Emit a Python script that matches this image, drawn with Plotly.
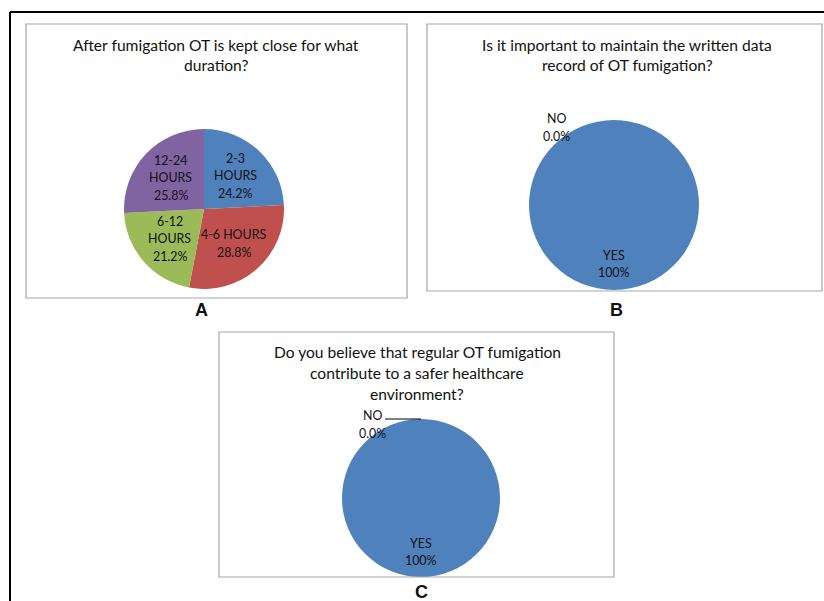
import plotly.graph_objects as go
import math

# ---------------- data ----------------
a_title = ["After fumigation OT is kept close for what", "duration?"]
a_categories = ["2-3 HOURS", "4-6 HOURS", "6-12 HOURS", "12-24 HOURS"]
a_label_lines = [["2-3", "HOURS"], ["4-6 HOURS"], ["6-12", "HOURS"], ["12-24", "HOURS"]]
a_values = [24.2, 28.8, 21.2, 25.8]
a_colors = ["#4F81BD", "#C0504D", "#9BBB59", "#8064A2"]

b_title = ["Is it important to maintain the written data", "record of OT fumigation?"]
b_categories = ["YES", "NO"]
b_values = [100, 0]

c_title = ["Do you believe that regular OT fumigation", "contribute to a safer healthcare", "environment?"]
c_categories = ["YES", "NO"]
c_values = [100, 0]

panel_letters = ["A", "B", "C"]

# ---------------- layout helpers ----------------
W, H = 824, 601
FONT = "Lato"
TXT = "#111111"


def px(x):
    return x / W


def py(y):
    return 1 - y / H


annotations = []
shapes = []


def add_lines(lines, cx, cy, size, lh, bold=False, family=FONT):
    n = len(lines)
    for i, t in enumerate(lines):
        y = cy + (i - (n - 1) / 2) * lh
        annotations.append(dict(
            text=f"<b>{t}</b>" if bold else t, x=px(cx), y=py(y), xref="paper", yref="paper",
            xanchor="center", yanchor="middle", showarrow=False,
            font=dict(family=family, size=size, color=TXT)))


def box(x0, y0, x1, y1, color="#A6A6A6", width=1.2):
    shapes.append(dict(type="rect", xref="paper", yref="paper",
                       x0=px(x0), x1=px(x1), y0=py(y1), y1=py(y0),
                       line=dict(color=color, width=width), fillcolor="rgba(0,0,0,0)"))


def pie_domain(cx, cy, r):
    return dict(x=[px(cx - r), px(cx + r)], y=[py(cy + r), py(cy - r)])


def mid_angles(values):
    tot = sum(values)
    out, cum = [], 0
    for v in values:
        out.append((cum + v / 2) / tot * 2 * math.pi)
        cum += v
    return out


fig = go.Figure()

# outer black frame
shapes.append(dict(type="line", xref="paper", yref="paper", x0=px(10), x1=px(10), y0=py(12), y1=0,
                   line=dict(color="black", width=2)))
shapes.append(dict(type="line", xref="paper", yref="paper", x0=px(10), x1=1, y0=py(12), y1=py(12),
                   line=dict(color="black", width=2)))

TITLE_SIZE = 15.6
LABEL_SIZE = 12.4
LETTER_FONT = "Liberation Sans"

# ---------------- Panel A ----------------
box(26, 24, 407, 298)
add_lines(a_title, 216, 55, TITLE_SIZE, 20.5)
A_C, A_R = (204, 209), 80
fig.add_trace(go.Pie(labels=a_categories, values=a_values, sort=False, direction="clockwise",
                     rotation=0, marker=dict(colors=a_colors, line=dict(width=0)),
                     textinfo="none", hoverinfo="label+percent", showlegend=False,
                     domain=pie_domain(*A_C, A_R)))
tot = sum(a_values)
for lines, v, ang in zip(a_label_lines, a_values, mid_angles(a_values)):
    r = 0.57 * A_R
    cx = A_C[0] + r * math.sin(ang)
    cy = A_C[1] - r * math.cos(ang)
    add_lines(lines + [f"{100 * v / tot:.1f}%"], cx, cy, LABEL_SIZE, 17.5)
add_lines([panel_letters[0]], 201, 310, 18, 18, bold=True, family=LETTER_FONT)

# ---------------- Panel B ----------------
box(427, 24, 822, 291)
add_lines(b_title, 627, 55, TITLE_SIZE, 20.5)
B_C, B_R = (614, 205), 85
fig.add_trace(go.Pie(labels=b_categories, values=b_values, sort=False, direction="clockwise",
                     rotation=0, marker=dict(colors=["#4F81BD", "#C0504D"], line=dict(width=0)),
                     textinfo="none", hoverinfo="label+percent", showlegend=False,
                     domain=pie_domain(*B_C, B_R)))
ang = mid_angles(b_values)[0]
r = 0.69 * B_R
add_lines([b_categories[0], f"{100 * b_values[0] / sum(b_values):.0f}%"],
          B_C[0] + r * math.sin(ang), B_C[1] - r * math.cos(ang), LABEL_SIZE, 17)
add_lines([b_categories[1], f"{100 * b_values[1] / sum(b_values):.1f}%"], 556, 127, LABEL_SIZE, 18)
add_lines([panel_letters[1]], 616, 310, 18, 18, bold=True, family=LETTER_FONT)

# ---------------- Panel C ----------------
box(219, 332, 614, 577)
add_lines(c_title, 417, 373, TITLE_SIZE, 21)
C_C, C_R = (421, 498), 79
fig.add_trace(go.Pie(labels=c_categories, values=c_values, sort=False, direction="clockwise",
                     rotation=0, marker=dict(colors=["#4F81BD", "#C0504D"], line=dict(width=0)),
                     textinfo="none", hoverinfo="label+percent", showlegend=False,
                     domain=pie_domain(*C_C, C_R)))
ang = mid_angles(c_values)[0]
r = 0.68 * C_R
add_lines([c_categories[0], f"{100 * c_values[0] / sum(c_values):.0f}%"],
          C_C[0] + r * math.sin(ang), C_C[1] - r * math.cos(ang), LABEL_SIZE, 17)
add_lines([c_categories[1], f"{100 * c_values[1] / sum(c_values):.1f}%"], 372, 424, LABEL_SIZE, 18)
shapes.append(dict(type="line", xref="paper", yref="paper", x0=px(385), x1=px(421), y0=py(419), y1=py(419),
                   line=dict(color="black", width=1)))
add_lines([panel_letters[2]], 421, 592, 18, 18, bold=True, family=LETTER_FONT)

fig.update_layout(width=W, height=H, margin=dict(l=0, r=0, t=0, b=0),
                  paper_bgcolor="white", plot_bgcolor="white",
                  annotations=annotations, shapes=shapes, showlegend=False)

fig.write_html("out.html")
